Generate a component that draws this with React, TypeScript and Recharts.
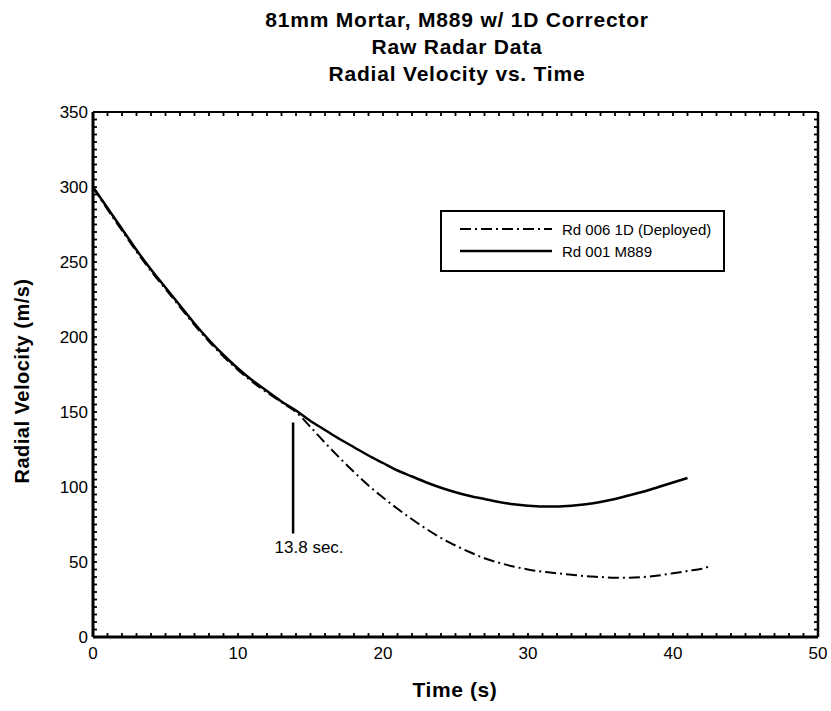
import React from 'react';
import { LineChart, Line, XAxis, YAxis, Legend, ReferenceLine } from 'recharts';

// Rd 001 M889 (solid)
const m889Time = [0, 1, 2, 3, 4, 5, 6, 7, 8, 9, 10, 11, 12, 13, 14, 15, 16, 17, 18, 19, 20, 21, 22, 23, 24, 25, 26, 27, 28, 29, 30, 31, 32, 33, 34, 35, 36, 37, 38, 39, 40, 41];
const m889Vel = [300, 286, 272, 258, 245, 233, 221, 209, 198, 188, 179, 171, 164, 157, 151, 144, 138, 132, 126.5, 121, 116, 111, 107, 103, 99.5, 96.5, 94, 92, 90, 88.5, 87.5, 87, 87, 87.5, 88.5, 90, 92, 94.5, 97, 100, 103, 106];

// Rd 006 1D (Deployed) (dash-dot)
const deployedTime = [0, 1, 2, 3, 4, 5, 6, 7, 8, 9, 10, 11, 12, 13, 14, 15, 16, 17, 18, 19, 20, 21, 22, 23, 24, 25, 26, 27, 28, 29, 30, 31, 32, 33, 34, 35, 36, 37, 38, 39, 40, 41, 42, 42.5];
const deployedVel = [300, 285, 271, 257, 244, 232, 220, 208, 197, 187, 178, 170, 163, 156.5, 150, 140, 129.5, 119.5, 110, 101, 93, 85.5, 78.5, 72, 66, 61, 56.5, 52.5, 49.5, 47, 45, 43.5, 42.5, 41.5, 40.5, 40, 39.5, 39.5, 40, 41, 42.5, 44, 45.5, 47];

const xTicks = [0, 10, 20, 30, 40, 50];
const yTicks = [0, 50, 100, 150, 200, 250, 300, 350];
const xMinorTicks = Array.from({ length: 51 }, (_, i) => i);
const yMinorTicks = Array.from({ length: 71 }, (_, i) => i * 5);

const deployTime = 13.8;
const markerTop = 143;
const markerBottom = 69;

const m889Data = m889Time.map((t, i) => ({ t, v: m889Vel[i] }));
const deployedData = deployedTime.map((t, i) => ({ t, v: deployedVel[i] }));

const FONT = '"Liberation Sans", Arial, Helvetica, sans-serif';
const DASH = '11 4 2 4';

const renderLegend = () => (
  <div
    style={{
      width: 281,
      height: 58,
      border: '2px solid #000',
      background: '#fff',
      fontFamily: FONT,
      fontSize: 15,
      color: '#000',
      whiteSpace: 'nowrap',
    }}
  >
    {[
      { name: 'Rd 006 1D (Deployed)', dash: DASH, w: 2 },
      { name: 'Rd 001 M889', dash: undefined, w: 2.5 },
    ].map((row, i) => (
      <div key={i} style={{ display: 'flex', alignItems: 'center', height: 22, marginTop: i === 0 ? 6 : 0 }}>
        <svg width={120} height={10} style={{ flex: 'none' }}>
          <line x1={18} y1={5} x2={110} y2={5} stroke="#000" strokeWidth={row.w} strokeDasharray={row.dash} />
        </svg>
        <span>{row.name}</span>
      </div>
    ))}
  </div>
);

// tick-only axes: lines drawn, labels blank
const minorTickLine = { stroke: '#000', strokeWidth: 1.8 };
const blank = () => '';
const noText = { fill: 'none', fontSize: 1 };

export default function App() {
  return (
    <div style={{ position: 'absolute', left: 0, top: 0, width: 831, height: 711, background: '#fff', fontFamily: FONT }}>
      <div
        style={{
          position: 'absolute',
          left: 0,
          width: 914,
          top: 6,
          textAlign: 'center',
          fontWeight: 'bold',
          fontSize: 21,
          lineHeight: '27px',
          letterSpacing: 0.8,
          color: '#000',
        }}
      >
        <div>81mm Mortar, M889 w/ 1D Corrector</div>
        <div>Raw Radar Data</div>
        <div>Radial Velocity vs. Time</div>
      </div>
      <LineChart width={831} height={711} margin={{ top: 112, right: 13, bottom: 44, left: 33 }}>
        <XAxis
          xAxisId="main"
          dataKey="t"
          type="number"
          domain={[0, 50]}
          ticks={xTicks}
          tickLine={false}
          tickSize={0}
          tickMargin={10}
          height={30}
          axisLine={{ stroke: '#000', strokeWidth: 3 }}
          tick={{ fill: '#000', fontSize: 17, fontFamily: FONT }}
          label={{
            content: () => (
              <text x={455} y={697} textAnchor="middle" fontFamily={FONT} fontWeight="bold" fontSize={21} letterSpacing={0.6} fill="#000">
                Time (s)
              </text>
            ),
          }}
        />
        <XAxis
          xAxisId="minorBottom"
          dataKey="t"
          type="number"
          domain={[0, 50]}
          ticks={xMinorTicks}
          interval={0}
          mirror
          height={1}
          tick={noText}
          tickFormatter={blank}
          tickSize={4}
          axisLine={false}
          tickLine={minorTickLine}
        />
        <XAxis
          xAxisId="minorTop"
          dataKey="t"
          orientation="top"
          type="number"
          domain={[0, 50]}
          ticks={xMinorTicks}
          interval={0}
          mirror
          height={1}
          tick={noText}
          tickFormatter={blank}
          tickSize={4}
          axisLine={{ stroke: '#000', strokeWidth: 2 }}
          tickLine={minorTickLine}
        />
        <YAxis
          yAxisId="main"
          type="number"
          domain={[0, 350]}
          ticks={yTicks}
          tickLine={false}
          tickSize={0}
          tickMargin={5}
          width={60}
          axisLine={{ stroke: '#000', strokeWidth: 3 }}
          tick={{ fill: '#000', fontSize: 17, fontFamily: FONT }}
          label={{
            content: () => (
              <text
                transform="translate(29,381) rotate(-90)"
                textAnchor="middle"
                fontFamily={FONT}
                fontWeight="bold"
                fontSize={20}
                letterSpacing={0.5}
                fill="#000"
              >
                Radial Velocity (m/s)
              </text>
            ),
          }}
        />
        <YAxis
          yAxisId="minorLeft"
          type="number"
          domain={[0, 350]}
          ticks={yMinorTicks}
          interval={0}
          mirror
          width={1}
          tick={noText}
          tickFormatter={blank}
          tickSize={4}
          axisLine={false}
          tickLine={minorTickLine}
        />
        <YAxis
          yAxisId="minorRight"
          orientation="right"
          type="number"
          domain={[0, 350]}
          ticks={yMinorTicks}
          interval={0}
          mirror
          width={1}
          tick={noText}
          tickFormatter={blank}
          tickSize={4}
          axisLine={{ stroke: '#000', strokeWidth: 2.5 }}
          tickLine={minorTickLine}
        />
        {/* invisible series so the tick-only frame axes get rendered */}
        <Line xAxisId="minorBottom" yAxisId="minorLeft" data={m889Data} dataKey="v" stroke="none" dot={false} activeDot={false} legendType="none" isAnimationActive={false} />
        <Line xAxisId="minorTop" yAxisId="minorRight" data={m889Data} dataKey="v" stroke="none" dot={false} activeDot={false} legendType="none" isAnimationActive={false} />
        <Line
          xAxisId="main"
          yAxisId="main"
          data={deployedData}
          dataKey="v"
          name="Rd 006 1D (Deployed)"
          type="monotone"
          stroke="#000"
          strokeWidth={2}
          strokeDasharray={DASH}
          dot={false}
          isAnimationActive={false}
        />
        <Line
          xAxisId="main"
          yAxisId="main"
          data={m889Data}
          dataKey="v"
          name="Rd 001 M889"
          type="monotone"
          stroke="#000"
          strokeWidth={2.5}
          dot={false}
          isAnimationActive={false}
        />
        <ReferenceLine
          xAxisId="main"
          yAxisId="main"
          segment={[
            { x: deployTime, y: markerTop },
            { x: deployTime, y: markerBottom },
          ]}
          stroke="#000"
          strokeWidth={2.5}
          label={{
            content: (props: any) => {
              const vb = props.viewBox || {};
              return (
                <text x={(vb.x ?? 0) + 16} y={(vb.y ?? 0) + (vb.height ?? 0) + 19} textAnchor="middle" fontFamily={FONT} fontSize={17} fill="#000">
                  13.8 sec.
                </text>
              );
            },
          }}
        />
        <Legend
          content={renderLegend}
          layout="horizontal"
          verticalAlign="middle"
          align="center"
          wrapperStyle={{ left: 440, top: 210, width: 285, height: 62 }}
        />
      </LineChart>
    </div>
  );
}
